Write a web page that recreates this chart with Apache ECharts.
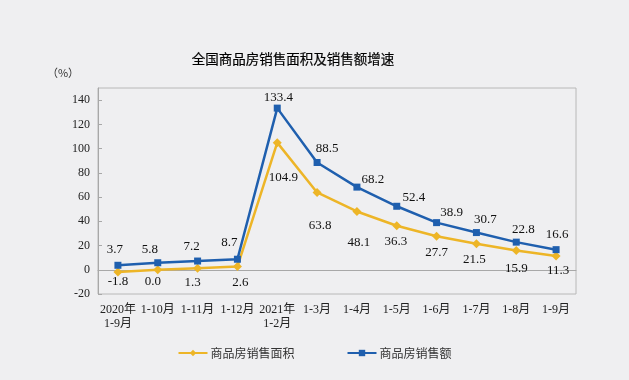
<!DOCTYPE html>
<html>
<head>
<meta charset="utf-8">
<script src="https://cdn.jsdelivr.net/npm/echarts@6/dist/echarts.min.js"></script>
<style>html,body{margin:0;padding:0;background:#efeff1;}#c{width:629px;height:380px;}</style>
</head>
<body>
<div id="c"></div>
<script>
var categories = ['2020年\n1-9月','1-10月','1-11月','1-12月','2021年\n1-2月','1-3月','1-4月','1-5月','1-6月','1-7月','1-8月','1-9月'];
var areaGrowth = [-1.8, 0.0, 1.3, 2.6, 104.9, 63.8, 48.1, 36.3, 27.7, 21.5, 15.9, 11.3];
var salesGrowth = [3.7, 5.8, 7.2, 8.7, 133.4, 88.5, 68.2, 52.4, 38.9, 30.7, 22.8, 16.6];
var yTicks = {min: -20, max: 150, interval: 20};

// label offsets (styling only): [dx, dy] from the point
var areaLabelOffsets = [[0,10],[-5,12],[-5,14],[3,16],[6,35],[3,33],[2,31],[-1,16],[0,16],[-2,16],[0,18],[2,15]];
var salesLabelOffsets = [[-3,-16],[-8,-13],[-6,-14],[-8,-17],[1,-11],[10,-14],[16,-8],[17,-9],[15,-10],[9,-13],[7,-13],[1,-15]];

var serif = '"Liberation Serif","Times New Roman","Noto Sans CJK SC",serif';

function withLabels(vals, offs){
  return vals.map(function(v,i){
    return {value: v, label: {offset: offs[i]}};
  });
}

var chart = echarts.init(document.getElementById('c'));
chart.setOption({
  backgroundColor: '#efeff1',
  animation: false,
  title: {
    text: '全国商品房销售面积及销售额增速',
    left: 288, top: 47, textAlign: 'center',
    textStyle: {fontSize: 13.5, fontWeight: 'normal', color: '#000', fontFamily: '"Noto Sans CJK SC",sans-serif', textBorderColor: '#000', textBorderWidth: 0.2}
  },
  legend: {
    bottom: 16, left: 'center',
    itemWidth: 29, itemHeight: 8, itemGap: 52,
    textStyle: {fontSize: 12, color: '#333', fontFamily: '"Noto Sans CJK SC",sans-serif', padding: [0,0,0,-2]},
    data: ['商品房销售面积','商品房销售额']
  },
  grid: {left: 98, right: 53, top: 88, bottom: 86, show: true, borderColor: '#b8b8b8', borderWidth: 1, backgroundColor: 'transparent'},
  xAxis: {
    type: 'category', data: categories, boundaryGap: true,
    axisLine: {lineStyle: {color: '#a8a8a8'}},
    axisTick: {inside: true, length: 5, interval: 0, lineStyle: {color: '#a8a8a8'}},
    axisLabel: {interval: 0, margin: 9, fontSize: 12, lineHeight: 14, color: '#222', fontFamily: serif}
  },
  yAxis: {
    type: 'value', min: yTicks.min, max: yTicks.max, interval: yTicks.interval,
    name: '（%）', nameLocation: 'end', nameGap: 10,
    nameTextStyle: {fontSize: 11, color: '#333', align: 'center', padding: [0, 70, 0, 0], fontFamily: '"Noto Sans CJK SC",sans-serif'},
    axisLine: {show: true, lineStyle: {color: '#a8a8a8'}},
    axisTick: {show: true, inside: true, length: 4, lineStyle: {color: '#a8a8a8'}},
    splitLine: {show: false},
    axisLabel: {showMaxLabel: false, margin: 8, fontSize: 12, color: '#222', fontFamily: serif}
  },
  series: [
    {
      name: '商品房销售面积', type: 'line', data: withLabels(areaGrowth, areaLabelOffsets),
      symbol: 'diamond', symbolSize: 9,
      lineStyle: {color: '#edb527', width: 2.5}, itemStyle: {color: '#edb527'},
      label: {show: true, position: 'inside', align: 'center', verticalAlign: 'middle', fontSize: 13, color: '#111', fontFamily: serif,
        formatter: function(p){ return p.value.toFixed(1); }},
      z: 2
    },
    {
      name: '商品房销售额', type: 'line', data: withLabels(salesGrowth, salesLabelOffsets),
      symbol: 'rect', symbolSize: 7,
      lineStyle: {color: '#1f5fae', width: 2.5}, itemStyle: {color: '#1f5fae'},
      label: {show: true, position: 'inside', align: 'center', verticalAlign: 'middle', fontSize: 13, color: '#111', fontFamily: serif,
        formatter: function(p){ return p.value.toFixed(1); }},
      z: 3
    }
  ]
});
</script>
</body>
</html>
